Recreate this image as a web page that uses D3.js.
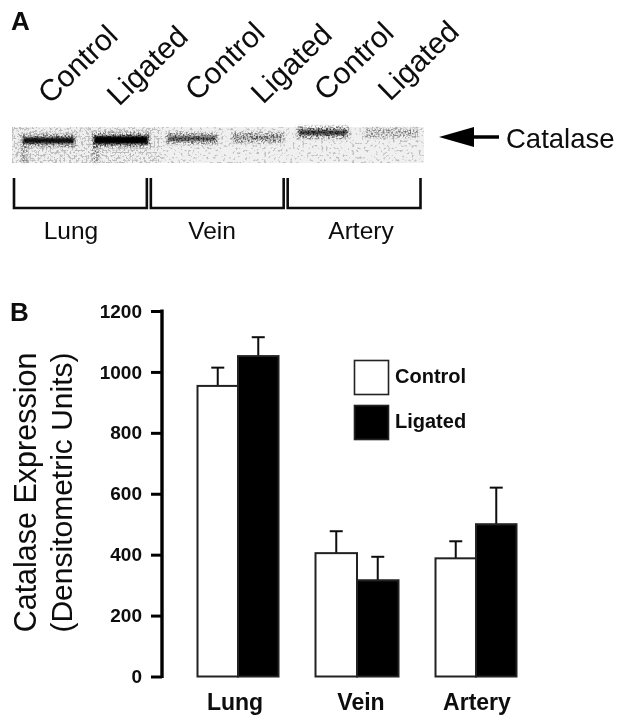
<!DOCTYPE html>
<html><head><meta charset="utf-8">
<script src="https://cdn.jsdelivr.net/npm/d3@7"></script>
<style>html,body{margin:0;padding:0;background:#fff}svg{display:block}text{font-family:"Liberation Sans",Arial,sans-serif;fill:#0a0a0a}</style>
</head><body><svg id="c" width="624" height="727"></svg>
<script>
const tissues=["Lung","Vein","Artery"];
const treatments=["Control","Ligated"];
const controlMeans=[954,405,388];
const ligatedMeans=[1052,316,500];
const controlUpper=[1014,477,444];
const ligatedUpper=[1114,393,620];
const yTicks=[0,200,400,600,800,1000,1200];
const laneLabels=["Control","Ligated","Control","Ligated","Control","Ligated"];
const laneCore=[0.92,1,0.55,0.22,0.68,0.06];
const laneHalo=[0.6,0.7,0.6,0.55,0.7,0.42];
const laneCenter=[140.5,140,138.5,137.5,132.5,133];
const laneThick=[6,8,5,4,5,3];
const laneStart=[23,94,168,234,299,367];
const laneEnd=[74,148,216,282,347,416];
const smearX=[23,94];
const labelX=[50,119,197,263,326,390];
const labelY=[105,107,102,105,102,102];

const svg=d3.select("#c");
const defs=svg.append("defs");
const soft=defs.append("filter").attr("id","soft").attr("x","-5%").attr("y","-5%").attr("width","110%").attr("height","110%");
soft.append("feGaussianBlur").attr("stdDeviation",0.5);
const coreBlur=defs.append("filter").attr("id","coreBlur").attr("x","-10%").attr("y","-100%").attr("width","120%").attr("height","300%");
coreBlur.append("feGaussianBlur").attr("stdDeviation","1.2 1.2");
const grain=defs.append("filter").attr("id","grain").attr("x","-10%").attr("y","-60%").attr("width","120%").attr("height","220%");
grain.append("feGaussianBlur").attr("in","SourceGraphic").attr("stdDeviation","1.6 1.6").attr("result","b");
grain.append("feTurbulence").attr("type","fractalNoise").attr("baseFrequency",0.6).attr("numOctaves",1).attr("seed",4).attr("result","n");
grain.append("feColorMatrix").attr("in","n").attr("type","matrix").attr("values","0 0 0 0 0 0 0 0 0 0 0 0 0 0 0 5 0 0 0 -2.2").attr("result","m");
grain.append("feComposite").attr("in","b").attr("in2","m").attr("operator","in");
function speckFilter(id,seed,freq,gain,cut){
 const f=defs.append("filter").attr("id",id).attr("x","0").attr("y","0").attr("width","100%").attr("height","100%");
 f.append("feTurbulence").attr("type","fractalNoise").attr("baseFrequency",freq).attr("numOctaves",1).attr("seed",seed);
 f.append("feColorMatrix").attr("type","matrix").attr("values",`0 0 0 0 0.5 0 0 0 0 0.5 0 0 0 0 0.5 ${gain} 0 0 0 ${cut}`);
}
speckFilter("specks",11,0.42,7,-4.0);
speckFilter("specksDense",5,0.5,7,-3.5);

const root=svg.append("g").attr("filter","url(#soft)");

root.append("text").attr("x",11).attr("y",30).attr("font-size",26).attr("font-weight","bold").text("A");
root.append("text").attr("x",10).attr("y",321).attr("font-size",26).attr("font-weight","bold").text("B");

const blot=root.append("g");
blot.append("rect").attr("x",12).attr("y",127).attr("width",412).attr("height",36).attr("fill","#f0f0f0");
blot.append("rect").attr("x",12).attr("y",127).attr("width",412).attr("height",36).attr("filter","url(#specks)");
blot.append("rect").attr("x",12).attr("y",127).attr("width",150).attr("height",36).attr("filter","url(#specksDense)");
blot.selectAll("rect.smear").data(smearX).join("rect").attr("class","smear")
 .attr("x",d=>d-2).attr("width",7).attr("y",145).attr("height",18).attr("fill","#777").attr("filter","url(#grain)");
blot.selectAll("rect.halo").data(laneHalo).join("rect").attr("class","halo")
 .attr("x",(d,i)=>laneStart[i]-2).attr("width",(d,i)=>laneEnd[i]-laneStart[i]+4)
 .attr("y",(d,i)=>laneCenter[i]-laneThick[i]/2-3.5).attr("height",(d,i)=>laneThick[i]+7)
 .attr("fill","#000").attr("fill-opacity",d=>d).attr("filter","url(#grain)");
blot.selectAll("rect.core").data(laneCore).join("rect").attr("class","core")
 .attr("x",(d,i)=>laneStart[i]).attr("width",(d,i)=>laneEnd[i]-laneStart[i])
 .attr("y",(d,i)=>laneCenter[i]-laneThick[i]/2).attr("height",(d,i)=>laneThick[i])
 .attr("fill","#000").attr("fill-opacity",d=>d).attr("filter","url(#coreBlur)");

laneLabels.forEach((t,i)=>{
 root.append("text").attr("transform",`translate(${labelX[i]},${labelY[i]}) rotate(-44)`).attr("font-size",30).text(t);
});

root.append("path").attr("d","M439 137 L474 127 L474 147 Z").attr("fill","#000");
root.append("line").attr("x1",470).attr("x2",499).attr("y1",137).attr("y2",137).attr("stroke","#000").attr("stroke-width",3.5);
root.append("text").attr("x",506).attr("y",148).attr("font-size",27.5).text("Catalase");

const bracketX=d3.scaleBand().domain(tissues).range([11.5,422]);
tissues.forEach((t,i)=>{
 const x0=bracketX(t)+2.5,x1=bracketX(t)+bracketX.bandwidth()-1.5;
 root.append("path").attr("d",d3.line()([[x0,178],[x0,208],[x1,208],[x1,178]])).attr("fill","none").attr("stroke","#111").attr("stroke-width",2.6);
});
const bracketLabelX=[71,212,361];
tissues.forEach((t,i)=>root.append("text").attr("x",bracketLabelX[i]).attr("y",239).attr("text-anchor","middle").attr("font-size",24.5).text(t));

const y=d3.scaleLinear().domain([0,1200]).range([676.5,311]);
const ax=root.append("g").attr("transform","translate(162,0)").call(d3.axisLeft(y).tickValues(yTicks).tickSize(11).tickPadding(9).tickFormat(d3.format("d")));
ax.selectAll("path").attr("d",`M0,${y(1200)-1.5}V${y(0)+1.5}`).attr("stroke","#000").attr("stroke-width",3.4);
ax.selectAll("line").attr("stroke","#000").attr("stroke-width",3);
ax.selectAll("text").attr("font-size",19).attr("font-weight","bold").attr("font-family",'"Liberation Sans",Arial,sans-serif').attr("fill","#0a0a0a");

const groupStart=d3.scaleOrdinal().domain(tissues).range([197.5,315.5,435.5]);
const groupWidth=d3.scaleOrdinal().domain(tissues).range([81,83,81]);
const inner=d3.scaleBand().domain(treatments).range([0,1]);
const barG=root.append("g");
const series=[["Control",controlMeans,controlUpper],["Ligated",ligatedMeans,ligatedUpper]];
series.forEach(([name,means,upper])=>{
 tissues.forEach((t,i)=>{
  const w=groupWidth(t),bx=groupStart(t)+inner(name)*w,bw=w/2;
  const cx=bx+bw/2;
  barG.append("line").attr("x1",cx).attr("x2",cx).attr("y1",y(means[i])).attr("y2",y(upper[i])).attr("stroke","#111").attr("stroke-width",2);
  barG.append("line").attr("x1",cx-6.5).attr("x2",cx+6.5).attr("y1",y(upper[i])).attr("y2",y(upper[i])).attr("stroke","#111").attr("stroke-width",2);
 });
});
series.forEach(([name,means])=>{
 tissues.forEach((t,i)=>{
  const w=groupWidth(t),bx=groupStart(t)+inner(name)*w,bw=w/2;
  barG.append("rect").attr("x",bx).attr("y",y(means[i])).attr("width",bw).attr("height",y(0)-y(means[i]))
   .attr("fill",name==="Control"?"#fff":"#000").attr("stroke","#222").attr("stroke-width",2);
 });
});
const catX=[235,361,477];
tissues.forEach((t,i)=>root.append("text").attr("x",catX[i]).attr("y",710).attr("text-anchor","middle").attr("font-size",23).attr("font-weight","bold").text(t));

treatments.forEach((t,i)=>{
 const ly=[360.5,405.5][i];
 root.append("rect").attr("x",354.5).attr("y",ly).attr("width",34).attr("height",34).attr("fill",i?"#000":"#fff").attr("stroke","#222").attr("stroke-width",1.6);
 root.append("text").attr("x",395).attr("y",[383,428][i]).attr("font-size",20).attr("font-weight","bold").text(t);
});

root.append("text").attr("transform","translate(36,492.5) rotate(-90)").attr("text-anchor","middle").attr("font-size",30.5).text("Catalase Expression");
root.append("text").attr("transform","translate(72,492.5) rotate(-90)").attr("text-anchor","middle").attr("font-size",30).text("(Densitometric Units)");
</script></body></html>
